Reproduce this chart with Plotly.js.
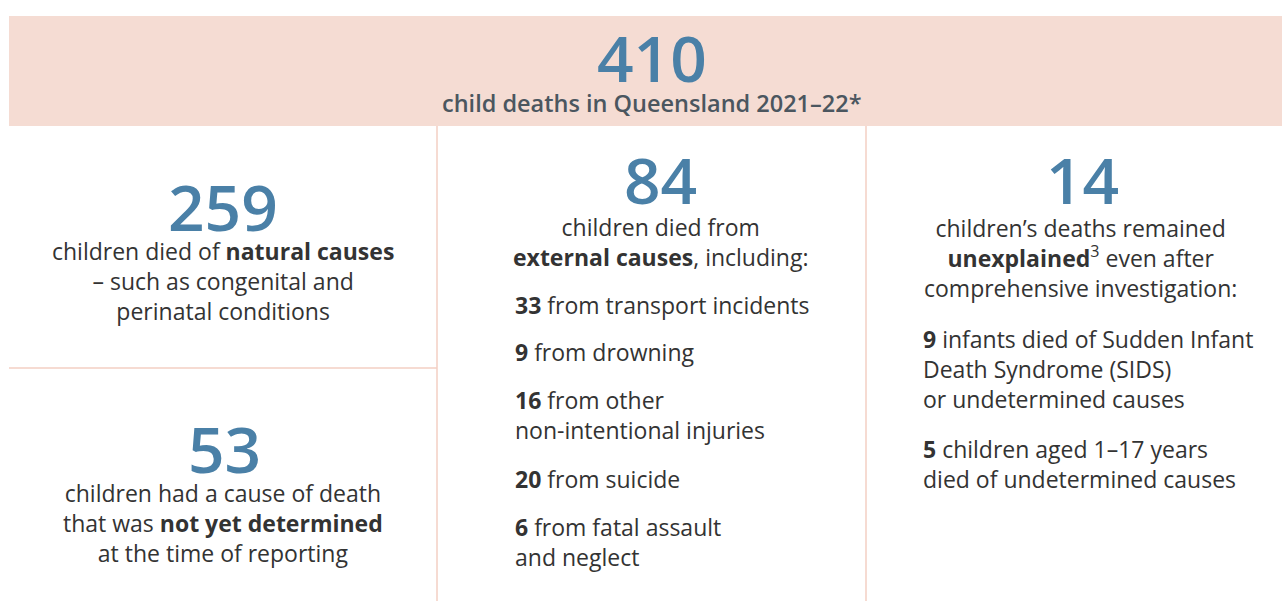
<!DOCTYPE html>
<html>
<head>
<meta charset="utf-8">
<script src="https://cdn.plot.ly/plotly-3.0.1.min.js"></script>
<style>html,body{margin:0;padding:0;background:#fff;}#chart{width:1282px;height:601px;}</style>
</head>
<body>
<div id="chart"></div>
<script>
// ---- Data ----
var totalDeaths = 410;
var totalLabel = "child deaths in Queensland 2021–22*";
var groupValues = [259, 53, 84, 14];
var groupNames = ["natural causes", "not yet determined", "external causes", "unexplained"];
var externalValues = [33, 9, 16, 20, 6];
var externalLabels = ["from transport incidents", "from drowning", "from other<br>non-intentional injuries", "from suicide", "from fatal assault<br>and neglect"];
var unexplainedValues = [9, 5];
var unexplainedLabels = ["infants died of Sudden Infant<br>Death Syndrome (SIDS)<br>or undetermined causes", "children aged 1–17 years<br>died of undetermined causes"];

// ---- Styles ----
var FONT = "Open Sans, Noto Sans, sans-serif";
var BLUE = "#4a80a7";
var TEXT = "#333333";
var HEAD = "#4b565f";
var PINK = "#f5dcd3";
var LINE = "#f3cfc3";
var BIG = 64, BODY = 23;

var ann = [];
function add(x, y, text, size, color, opts, weight) {
  var a = Object.assign({x: x, y: y, xref: "x", yref: "y", text: text, showarrow: false,
    font: {family: FONT, size: size, color: color, weight: weight || "normal"},
    xanchor: "center", yanchor: "middle", align: "center"}, opts || {});
  ann.push(a);
}

// header
add(652, 57, String(totalDeaths), BIG, BLUE, null, 600);
add(652, 103, totalLabel, 23.5, HEAD, null, 600);

// natural causes
add(223, 206, String(groupValues[0]), BIG, BLUE, null, 600);
add(223, 281, "children died of <b>" + groupNames[0] + "</b><br>– such as congenital and<br>perinatal conditions", BODY, TEXT);

// not yet determined
add(224, 448, String(groupValues[1]), BIG, BLUE, null, 600);
add(223, 523, "children had a cause of death<br>that was <b>" + groupNames[1] + "</b><br>at the time of reporting", BODY, TEXT);

// external causes
add(660, 179, String(groupValues[2]), BIG, BLUE, null, 600);
add(660, 242, "children died from<br><b>" + groupNames[2] + "</b>, including:", BODY, TEXT);
var extY = [305, 352, 415, 479, 542];
for (var i = 0; i < externalValues.length; i++) {
  add(513, extY[i], "<b>" + externalValues[i] + "</b> " + externalLabels[i], BODY, TEXT, {xanchor: "left", align: "left"});
}

// unexplained
add(1082, 179, String(groupValues[3]), BIG, BLUE, null, 600);
add(1080, 258, "children’s deaths remained<br><b>" + groupNames[3] + "</b><sup>3</sup> even after<br>comprehensive investigation:", BODY, TEXT);
var unY = [369, 464];
for (var j = 0; j < unexplainedValues.length; j++) {
  add(921, unY[j], "<b>" + unexplainedValues[j] + "</b> " + unexplainedLabels[j], BODY, TEXT, {xanchor: "left", align: "left"});
}

var shapes = [
  {type: "rect", xref: "x", yref: "y", x0: 9, x1: 1282, y0: 16, y1: 126, fillcolor: PINK, line: {width: 0}, layer: "below"},
  {type: "line", xref: "x", yref: "y", x0: 437, x1: 437, y0: 126, y1: 601, line: {color: LINE, width: 1.5}},
  {type: "line", xref: "x", yref: "y", x0: 866, x1: 866, y0: 126, y1: 601, line: {color: LINE, width: 1.5}},
  {type: "line", xref: "x", yref: "y", x0: 9, x1: 437, y0: 368, y1: 368, line: {color: LINE, width: 1.5}}
];

var layout = {
  width: 1282, height: 601,
  margin: {l: 0, r: 0, t: 0, b: 0},
  paper_bgcolor: "#ffffff", plot_bgcolor: "#ffffff",
  xaxis: {range: [0, 1282], visible: false, fixedrange: true},
  yaxis: {range: [601, 0], visible: false, fixedrange: true},
  showlegend: false,
  shapes: shapes,
  annotations: ann
};

Plotly.newPlot("chart", [], layout, {staticPlot: true, displayModeBar: false});
</script>
</body>
</html>
